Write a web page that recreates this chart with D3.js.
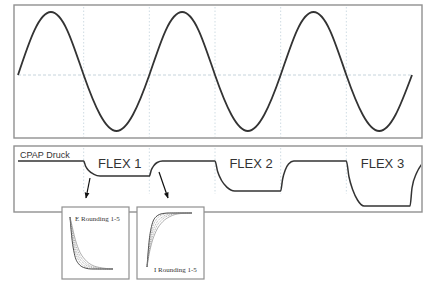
<!DOCTYPE html>
<html><head><meta charset="utf-8">
<script src="https://cdn.jsdelivr.net/npm/d3@7"></script>
<style>body{margin:0;background:#fff}svg{display:block}</style>
</head><body>
<script>
// ---- data ----
const breathT = [0,0.25,0.5,0.75,1,1.25,1.5,1.75,2,2.25,2.5,2.75,3,3.25,3.5,3.75,4,4.25,4.5,4.75,5,5.25,5.5,5.75,6];
const breathV = [0,0.71,1,0.71,0,-0.71,-1,-0.71,0,0.71,1,0.71,0,-0.71,-1,-0.71,0,0.71,1,0.71,0,-0.71,-1,-0.71,0];
const phaseTicks = [1,2,3,4,5];
const pressT = [0,1,1.03,1.08,1.15,1.25,2,2.03,2.07,2.12,2.2,3,3.04,3.1,3.18,3.3,4,4.03,4.07,4.12,4.2,5,5.04,5.1,5.17,5.27,5.97,6.0,6.07,6.15];
const pressV = [10,10,9.65,9.35,9.13,9,9,9.4,9.7,9.9,10,10,9.3,8.7,8.26,8,8,8.8,9.4,9.8,10,10,8.95,8.05,7.4,7,7,8.2,9.2,9.8];
const flexLabels = ["FLEX 1","FLEX 2","FLEX 3"];
const flexLabelT = [1.55,3.55,5.55];
const pressureLabel = "CPAP Druck";
const roundX = [0,0.05,0.1,0.2,0.35,0.5,0.75,1];
const eRound = [
  [1,0.55,0.3,0.1,0.02,0,0,0],
  [1,0.62,0.4,0.17,0.05,0.01,0,0],
  [1,0.7,0.48,0.24,0.09,0.03,0,0],
  [1,0.76,0.56,0.31,0.13,0.05,0.01,0],
  [1,0.82,0.64,0.38,0.18,0.08,0.02,0]
];
const iRound = [
  [0,0.5,0.75,0.93,0.99,1,1,1],
  [0,0.42,0.66,0.87,0.97,1,1,1],
  [0,0.36,0.58,0.8,0.93,0.98,1,1],
  [0,0.3,0.5,0.73,0.89,0.96,1,1],
  [0,0.25,0.43,0.66,0.84,0.93,0.99,1]
];
const insetLabels = ["E Rounding 1-5","I Rounding 1-5"];

// ---- drawing ----
const W = 424, H = 282;
const svg = d3.select("body").append("svg").attr("width", W).attr("height", H);
const defs = svg.append("defs");
defs.append("marker").attr("id","arr").attr("viewBox","0 0 10 10").attr("refX",9).attr("refY",5)
  .attr("markerWidth",5).attr("markerHeight",5).attr("orient","auto")
  .append("path").attr("d","M0,1L10,5L0,9Z").attr("fill","#111");
defs.append("clipPath").attr("id","lowclip").append("rect").attr("x",15).attr("y",147).attr("width",406).attr("height",64);

const x = d3.scaleLinear().domain([0,6]).range([18,412]);
const yB = d3.scaleLinear().domain([-1,0,1]).range([131,75,12]);
const yP = d3.scaleLinear().domain([7,10]).range([206,161]);

// panel frames
svg.append("rect").attr("x",14).attr("y",5).attr("width",408).attr("height",133)
  .attr("fill","none").attr("stroke","#909090").attr("stroke-width",1.4);
svg.append("rect").attr("x",14).attr("y",146).attr("width",408).attr("height",66)
  .attr("fill","none").attr("stroke","#909090").attr("stroke-width",1.4);

// vertical phase grid lines
const grid = svg.append("g");
phaseTicks.forEach(t => {
  grid.append("line").attr("x1",x(t)).attr("x2",x(t)).attr("y1",7).attr("y2",137)
    .attr("stroke","#c3d3dc").attr("stroke-width",0.8).attr("stroke-dasharray","1.5,2");
  grid.append("line").attr("x1",x(t)).attr("x2",x(t)).attr("y1",148).attr("y2",194)
    .attr("stroke","#c3d3dc").attr("stroke-width",0.8).attr("stroke-dasharray","1.5,2");
});
// zero line
svg.append("line").attr("x1",x(0)).attr("x2",x(6)).attr("y1",yB(0)).attr("y2",yB(0))
  .attr("stroke","#bfcfd8").attr("stroke-width",0.9).attr("stroke-dasharray","3,2");

// breathing sine
const breath = breathT.map((t,i)=>[t,breathV[i]]);
svg.append("path").datum(breath)
  .attr("d", d3.line().x(d=>x(d[0])).y(d=>yB(d[1])).curve(d3.curveNatural))
  .attr("fill","none").attr("stroke","#333").attr("stroke-width",1.8);

// pressure
const press = pressT.map((t,i)=>[t,pressV[i]]);
svg.append("path").datum(press).attr("clip-path","url(#lowclip)")
  .attr("d", d3.line().x(d=>x(d[0])).y(d=>yP(d[1])).curve(d3.curveMonotoneX))
  .attr("fill","none").attr("stroke","#333").attr("stroke-width",1.5);

svg.append("text").attr("x",20).attr("y",158).text(pressureLabel)
  .attr("font-family","Liberation Sans, Arial, sans-serif").attr("font-size",9).attr("fill","#333");
flexLabels.forEach((l,i)=>{
  svg.append("text").attr("x",x(flexLabelT[i])).attr("y",168).attr("text-anchor","middle").text(l)
    .attr("font-family","Liberation Sans, Arial, sans-serif").attr("font-size",13).attr("fill","#333");
});

// arrows
svg.append("line").attr("x1",90).attr("y1",178).attr("x2",86).attr("y2",198)
  .attr("stroke","#111").attr("stroke-width",1.2).attr("marker-end","url(#arr)");
svg.append("line").attr("x1",159).attr("y1",172).attr("x2",168).attr("y2",198)
  .attr("stroke","#111").attr("stroke-width",1.2).attr("marker-end","url(#arr)");

// insets
const insets = [
  {bx:62, data:eRound, xr:[70,113], yr:[269,217], lx:75, ly:221},
  {bx:137, data:iRound, xr:[147,192], yr:[267,213], lx:154, ly:272}
];
insets.forEach((ins,k)=>{
  const g = svg.append("g");
  g.append("rect").attr("x",ins.bx).attr("y",207).attr("width",67).attr("height",72)
    .attr("fill","#fff").attr("stroke","#909090").attr("stroke-width",1.2);
  const ix = d3.scaleLinear().domain([0,1]).range(ins.xr);
  const iy = d3.scaleLinear().domain([0,1]).range(ins.yr);
  const ln = d3.line().x((d,i)=>ix(roundX[i])).y(d=>iy(d)).curve(d3.curveMonotoneX);
  ins.data.forEach((s,j)=>{
    g.append("path").datum(s).attr("d",ln).attr("fill","none")
      .attr("stroke", j===0 ? "#333" : "#777").attr("stroke-width", j===0 ? 0.9 : 0.6)
      .attr("stroke-dasharray", (j===0||j===4) ? null : "1,0.8");
  });
  g.append("text").attr("x",ins.lx).attr("y",ins.ly).text(insetLabels[k])
    .attr("font-family","Liberation Serif, Times New Roman, serif").attr("font-size",7).attr("fill","#333");
});
</script>
</body></html>
